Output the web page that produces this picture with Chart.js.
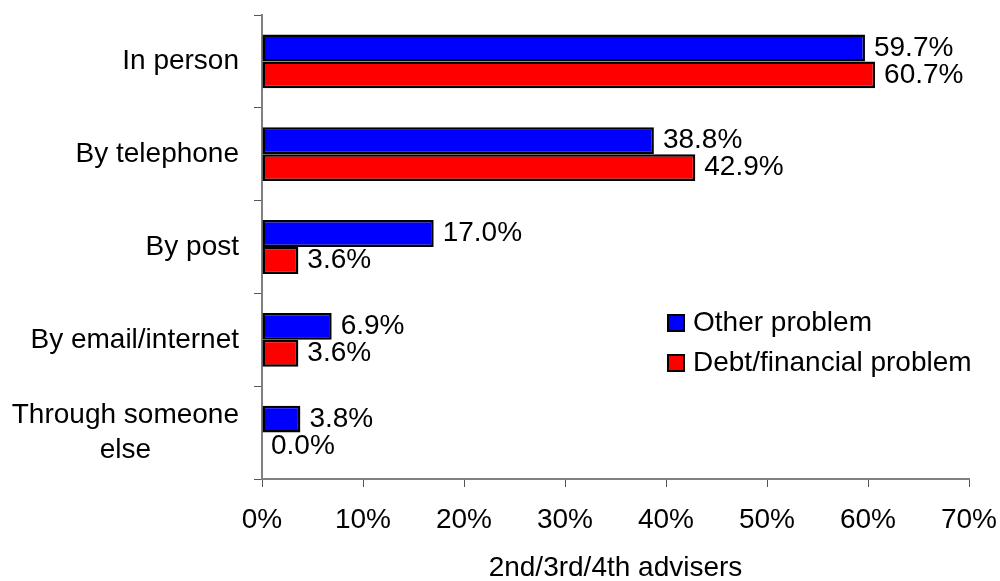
<!DOCTYPE html>
<html>
<head>
<meta charset="utf-8">
<script src="https://cdn.jsdelivr.net/npm/chart.js@4/dist/chart.umd.min.js"></script>
<style>
  html, body { margin: 0; padding: 0; background: #fff; }
  canvas { display: block; }
</style>
</head>
<body>
<canvas id="adviserChart" width="1000" height="581"></canvas>
<script>
// Contact method for 2nd/3rd/4th advisers, by problem type (%)
const categories = ['In person', 'By telephone', 'By post', 'By email/internet', ['Through someone', 'else']];
const otherProblem = [59.7, 38.8, 17.0, 6.9, 3.8];
const debtProblem = [60.7, 42.9, 3.6, 3.6, 0.0];
const xTicks = [0, 10, 20, 30, 40, 50, 60, 70];
const seriesNames = ['Other problem', 'Debt/financial problem'];
const seriesColors = ['#0000ff', '#ff0000'];
const axisTitle = '2nd/3rd/4th advisers';

const FONT = '"Liberation Sans", Arial, sans-serif';
const FONT_SIZE = 28;

// value labels to the right of every bar
const valueLabels = {
    id: 'valueLabels',
    afterDatasetsDraw(chart) {
        const ctx = chart.ctx;
        ctx.save();
        ctx.font = FONT_SIZE + 'px ' + FONT;
        ctx.fillStyle = '#000';
        ctx.textAlign = 'left';
        ctx.textBaseline = 'middle';
        chart.data.datasets.forEach((ds, i) => {
            chart.getDatasetMeta(i).data.forEach((bar, j) => {
                ctx.fillText(ds.data[j].toFixed(1) + '%', bar.x + 9, bar.y);
            });
        });
        ctx.restore();
    }
};

// category names: right aligned block, wrapped lines centred inside it
const categoryLabels = {
    id: 'categoryLabels',
    afterDraw(chart) {
        const ctx = chart.ctx;
        const yScale = chart.scales.y;
        const right = 239;
        const lineH = 35;
        ctx.save();
        ctx.font = FONT_SIZE + 'px ' + FONT;
        ctx.fillStyle = '#000';
        ctx.textAlign = 'center';
        ctx.textBaseline = 'middle';
        chart.data.labels.forEach((label, i) => {
            const lines = Array.isArray(label) ? label : [label];
            const maxW = Math.max(...lines.map(l => ctx.measureText(l).width));
            const cx = right - maxW / 2;
            const y0 = yScale.getPixelForTick(i) - (lines.length - 1) * lineH / 2;
            lines.forEach((l, k) => ctx.fillText(l, cx, y0 + k * lineH));
        });
        ctx.restore();
    }
};

// legend boxes inside the plot, lower right
const boxLegend = {
    id: 'boxLegend',
    afterDraw(chart) {
        const ctx = chart.ctx;
        const x = 668, y = 323, rowH = 40, box = 16;
        ctx.save();
        ctx.font = FONT_SIZE + 'px ' + FONT;
        ctx.textAlign = 'left';
        ctx.textBaseline = 'middle';
        chart.data.datasets.forEach((ds, i) => {
            const cy = y + i * rowH;
            ctx.fillStyle = ds.backgroundColor;
            ctx.fillRect(x, cy - box / 2, box, box);
            ctx.lineWidth = 2;
            ctx.strokeStyle = '#000';
            ctx.strokeRect(x, cy - box / 2, box, box);
            ctx.fillStyle = '#000';
            ctx.fillText(ds.label, x + 25, cy);
        });
        ctx.restore();
    }
};

new Chart(document.getElementById('adviserChart'), {
    type: 'bar',
    data: {
        labels: categories,
        datasets: [
            {
                label: seriesNames[0],
                data: otherProblem,
                backgroundColor: seriesColors[0],
                borderColor: '#000',
                borderWidth: 2.5,
                borderSkipped: false
            },
            {
                label: seriesNames[1],
                data: debtProblem,
                backgroundColor: seriesColors[1],
                borderColor: '#000',
                borderWidth: 2.5,
                borderSkipped: false
            }
        ]
    },
    options: {
        indexAxis: 'y',
        responsive: false,
        animation: false,
        categoryPercentage: 0.58,
        barPercentage: 1.0,
        layout: { padding: { left: 0, right: 0, top: 15, bottom: 0 } },
        plugins: {
            legend: { display: false },
            tooltip: { enabled: false }
        },
        scales: {
            x: {
                min: 0,
                max: 70,
                afterBuildTicks(scale) {
                    scale.ticks = xTicks.map(v => ({ value: v }));
                },
                afterFit(scale) {
                    scale.height = 102;
                    scale.paddingLeft = 0;
                    scale.paddingRight = 31;
                },
                ticks: {
                    color: '#000',
                    padding: 16,
                    font: { family: FONT, size: FONT_SIZE },
                    callback: v => v + '%'
                },
                grid: {
                    drawOnChartArea: false,
                    tickLength: 8,
                    color: '#555',
                    lineWidth: 1
                },
                border: { color: '#808080', width: 2 },
                title: {
                    display: true,
                    text: axisTitle,
                    color: '#000',
                    padding: { top: 0, bottom: 0 },
                    font: { family: FONT, size: FONT_SIZE, lineHeight: 0.9 }
                }
            },
            y: {
                offset: true,
                afterFit(scale) {
                    scale.width = 262;
                },
                ticks: { display: false },
                grid: {
                    offset: true,
                    drawOnChartArea: false,
                    tickLength: 8,
                    color: '#555',
                    lineWidth: 1
                },
                border: { color: '#808080', width: 2 }
            }
        }
    },
    plugins: [valueLabels, categoryLabels, boxLegend]
});
</script>
</body>
</html>
